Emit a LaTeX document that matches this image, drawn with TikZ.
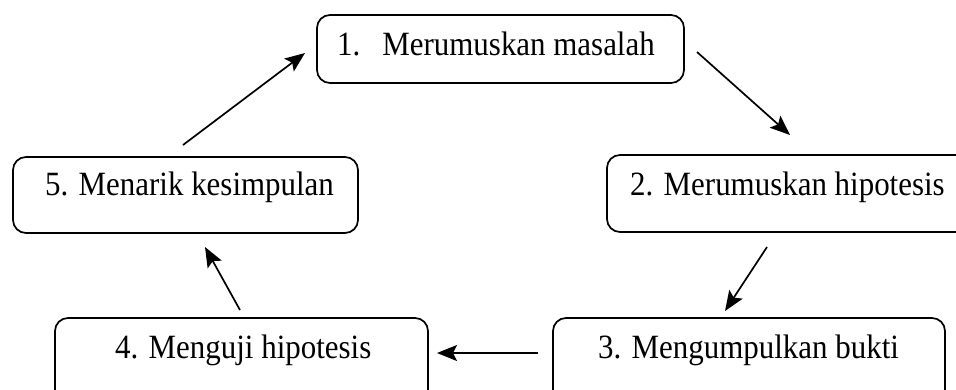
\documentclass[tikz,border=0pt]{standalone}
\usepackage{fontspec}
\setmainfont{Liberation Serif}[FakeStretch=0.91]
\usetikzlibrary{arrows.meta}
\tikzset{
  stepbox/.style={draw=black, line width=1.7pt, rounded corners=13pt},
  steptext/.style={anchor=base west, inner sep=0pt, font=\fontsize{34pt}{40pt}\selectfont},
  flow/.style={line width=1.7pt, -{Stealth[length=20pt,width=16pt,inset=4pt]}}
}
\begin{document}
\begin{tikzpicture}[x=1pt,y=-1pt]
\useasboundingbox (0,0) rectangle (956,389);
\clip (0,0) rectangle (956,389);
% boxes
\draw[stepbox] (317,15) rectangle (684,83);
\draw[stepbox] (607,155) rectangle (975,232);
\draw[stepbox] (13,157) rectangle (358,233);
\draw[stepbox] (55,318) rectangle (428,405);
\draw[stepbox] (553,318) rectangle (945,405);
% texts
\node[steptext] (t1) at (337,55) {1.\hspace{22pt}Merumuskan masalah};
\node[steptext] (t2) at (630,195) {2. Merumuskan hipotesis};
\node[steptext] (t3) at (598,358) {3. Mengumpulkan bukti};
\node[steptext] (t4) at (115,358) {4. Menguji hipotesis};
\node[steptext] (t5) at (45,195) {5. Menarik kesimpulan};
% arrow ends
\coordinate (a12s) at (697,52);
\coordinate (a12e) at (790,135);
\coordinate (a23s) at (767,247);
\coordinate (a23e) at (725,311);
\coordinate (a34s) at (538,353);
\coordinate (a34e) at (437,353);
\coordinate (a45s) at (240,310);
\coordinate (a45e) at (205,247);
\coordinate (a51s) at (183,145);
\coordinate (a51e) at (305,53);
\draw[flow] (a12s) -- (a12e);
\draw[flow] (a23s) -- (a23e);
\draw[flow] (a34s) -- (a34e);
\draw[flow] (a45s) -- (a45e);
\draw[flow] (a51s) -- (a51e);
\end{tikzpicture}
\end{document}
